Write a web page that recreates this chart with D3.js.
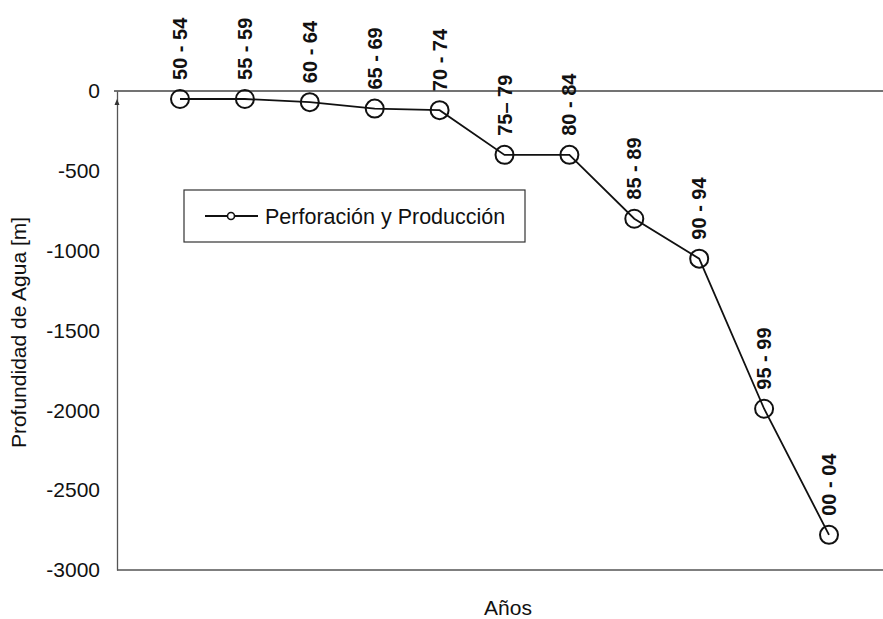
<!DOCTYPE html>
<html>
<head>
<meta charset="utf-8">
<script src="https://cdn.jsdelivr.net/npm/d3@7"></script>
<style>
  html, body { margin: 0; padding: 0; background: #fff; }
  svg { display: block; font-family: "Liberation Sans", Arial, sans-serif; }
</style>
</head>
<body>
<svg id="chart" width="883" height="619"></svg>
<script>
// Periods (five-year ranges) and water depth reached in each one
const periods = ["50 - 54", "55 - 59", "60 - 64", "65 - 69", "70 - 74", "75– 79",
                 "80 - 84", "85 - 89", "90 - 94", "95 - 99", "00 - 04"];
const depths = [-50, -50, -70, -110, -120, -400, -400, -800, -1050, -1990, -2780];
const yTicks = [0, -500, -1000, -1500, -2000, -2500, -3000];
const seriesName = "Perforación y Producción";

const svg = d3.select("#chart");

const plot = { left: 117, right: 883, top: 91, bottom: 570 };

const x = d3.scalePoint().domain(periods).range([180, 829]);
const y = d3.scaleLinear().domain([-3000, 0]).range([plot.bottom, plot.top]);

// Frame lines: top (zero level) and bottom of the plot area
svg.append("line")
  .attr("x1", 114).attr("x2", plot.right)
  .attr("y1", y(0)).attr("y2", y(0))
  .attr("stroke", "#444").attr("stroke-width", 1.4);
svg.append("line")
  .attr("x1", plot.left).attr("x2", plot.right)
  .attr("y1", y(-3000)).attr("y2", y(-3000))
  .attr("stroke", "#555").attr("stroke-width", 1.6);

// Y axis (plain hyphen for negative numbers)
const yAxis = d3.axisLeft(y).tickValues(yTicks).tickSize(0).tickPadding(17)
  .tickFormat(d => String(d));
const gy = svg.append("g").attr("transform", `translate(${plot.left},0)`).call(yAxis);
gy.select(".domain").attr("stroke", "#555").attr("stroke-width", 1.3);
gy.selectAll("text").attr("font-size", 21).attr("fill", "#111")
  .attr("font-family", "'Liberation Sans', Arial, sans-serif");

// small arrowhead on the vertical axis
svg.append("path")
  .attr("d", `M${plot.left - 2.5},${y(0) + 14} L${plot.left},${y(0) + 8} L${plot.left + 2.5},${y(0) + 14} Z`)
  .attr("fill", "#333");

// Axis titles
svg.append("text")
  .attr("transform", `translate(26,${(y(0) + y(-3000)) / 2 + 2}) rotate(-90)`)
  .attr("text-anchor", "middle")
  .attr("font-size", 21).attr("fill", "#111")
  .text("Profundidad de Agua [m]");

svg.append("text")
  .attr("x", 508).attr("y", 615)
  .attr("text-anchor", "middle")
  .attr("font-size", 21).attr("fill", "#111")
  .text("Años");

// Series line
const data = periods.map((p, i) => ({ p, v: depths[i] }));
svg.append("path")
  .datum(data)
  .attr("fill", "none")
  .attr("stroke", "#111")
  .attr("stroke-width", 1.8)
  .attr("d", d3.line().x(d => x(d.p)).y(d => y(d.v)));

// Circle markers
svg.append("g").selectAll("circle").data(data).join("circle")
  .attr("cx", d => x(d.p)).attr("cy", d => y(d.v)).attr("r", 9)
  .attr("fill", "none").attr("stroke", "#111").attr("stroke-width", 2);

// Period labels above each point, rotated
svg.append("g").selectAll("text").data(data).join("text")
  .attr("transform", d => `translate(${x(d.p) + 7},${y(d.v) - 19}) rotate(-90)`)
  .attr("text-anchor", "start")
  .attr("font-size", 20).attr("font-weight", "bold").attr("fill", "#111")
  .text(d => d.p);

// Legend
const lg = svg.append("g");
lg.append("rect")
  .attr("x", 184).attr("y", 190).attr("width", 341).attr("height", 52)
  .attr("fill", "#fff").attr("stroke", "#333").attr("stroke-width", 1.2);
lg.append("line")
  .attr("x1", 205).attr("x2", 258).attr("y1", 216).attr("y2", 216)
  .attr("stroke", "#111").attr("stroke-width", 1.8);
lg.append("circle")
  .attr("cx", 231).attr("cy", 216).attr("r", 3.5)
  .attr("fill", "#fff").attr("stroke", "#111").attr("stroke-width", 1.6);
lg.append("text")
  .attr("x", 265).attr("y", 224)
  .attr("font-size", 21.5).attr("fill", "#111")
  .text(seriesName);
</script>
</body>
</html>
